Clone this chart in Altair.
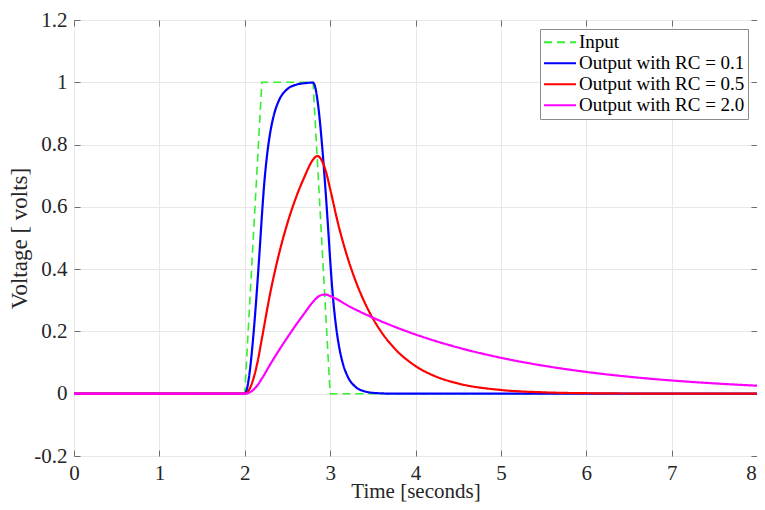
import altair as alt
import pandas as pd

names = ["Input", "Output with RC = 0.1", "Output with RC = 0.5", "Output with RC = 2.0"]
colors = ["#33ee33", "#0000ff", "#ff0000", "#ff00ff"]

t_in = [0, 2.0, 2.2, 2.8, 3.0, 8.0]
v_in = [0, 0, 1, 1, 0, 0]

t1 = [0, 2.0, 2.025, 2.05, 2.075, 2.1, 2.125, 2.15, 2.175, 2.2, 2.225, 2.25, 2.275, 2.3, 2.35, 2.4,
      2.5, 2.6, 2.7, 2.8, 2.825, 2.85, 2.875, 2.9, 2.925, 2.95, 2.975, 3.0, 3.025, 3.05, 3.075, 3.1,
      3.15, 3.2, 3.3, 3.4, 3.5, 3.7, 4.0, 8.0]
v1 = [0, 0, 0.0144, 0.0533, 0.1112, 0.184, 0.268, 0.3615, 0.4619, 0.568, 0.6636, 0.738, 0.7959, 0.841,
      0.9036, 0.9415, 0.9785, 0.9921, 0.9971, 0.9989, 0.9847, 0.946, 0.8883, 0.8156, 0.7317, 0.6383,
      0.5379, 0.4319, 0.3364, 0.262, 0.204, 0.1589, 0.0964, 0.0585, 0.0215, 0.0079, 0.0029, 0.0004, 0, 0]

t2 = [0, 2.0, 2.05, 2.1, 2.15, 2.2, 2.3, 2.4, 2.5, 2.6, 2.7, 2.8, 2.85, 2.9, 2.95, 3.0, 3.1, 3.2, 3.3,
      3.4, 3.5, 3.6, 3.75, 4.0, 4.25, 4.5, 5.0, 5.5, 6.0, 7.0, 8.0]
v2 = [0, 0, 0.0121, 0.0468, 0.102, 0.1758, 0.3252, 0.4475, 0.5477, 0.6297, 0.6968, 0.7518, 0.7633, 0.75,
      0.7141, 0.6578, 0.5386, 0.4409, 0.361, 0.2956, 0.242, 0.1981, 0.1468, 0.089, 0.054, 0.0328, 0.012,
      0.0044, 0.0016, 0.0002, 0]

t3 = [0, 2.0, 2.05, 2.1, 2.15, 2.2, 2.3, 2.4, 2.5, 2.6, 2.7, 2.8, 2.85, 2.9, 2.95, 3.0, 3.25, 3.5, 4.0,
      4.5, 5.0, 5.5, 6.0, 6.5, 7.0, 7.5, 8.0]
v3 = [0, 0, 0.0031, 0.0123, 0.0274, 0.0484, 0.0948, 0.139, 0.1809, 0.2209, 0.2589, 0.295, 0.3093, 0.3171,
      0.3185, 0.3137, 0.2768, 0.2443, 0.1903, 0.1482, 0.1154, 0.0899, 0.07, 0.0545, 0.0425, 0.0331, 0.0258]

x_ticks = [0, 1, 2, 3, 4, 5, 6, 7, 8]
y_ticks = [-0.2, 0, 0.2, 0.4, 0.6, 0.8, 1, 1.2]

df_in = pd.DataFrame({"t": t_in, "v": v_in, "series": names[0]})
df_out = pd.concat([
    pd.DataFrame({"t": t1, "v": v1, "series": names[1]}),
    pd.DataFrame({"t": t2, "v": v2, "series": names[2]}),
    pd.DataFrame({"t": t3, "v": v3, "series": names[3]}),
], ignore_index=True)

W, H = 683, 436
FONT = "Liberation Serif"
TXT = "#262626"
FRAME = "#8c8c8c"

xs = alt.Scale(domain=[0, 8], nice=False, zero=False)
ys = alt.Scale(domain=[-0.2, 1.2], nice=False, zero=False)
cscale = alt.Scale(domain=names, range=colors)
dscale = alt.Scale(domain=names, range=[[8, 5], [1, 0], [1, 0], [1, 0]])

legend = alt.Legend(
    title=None, orient="none", legendX=466, legendY=9,
    labelFont=FONT, labelFontSize=19, labelColor="black", labelLimit=0, labelOffset=2,
    symbolType="stroke", symbolSize=1024, symbolStrokeWidth=2,
    clipHeight=20.5, rowPadding=0,
    padding=3, strokeColor=FRAME, fillColor="white", cornerRadius=0,
)

x_main = alt.Axis(values=x_ticks, grid=True, gridColor="#e8e8e8", ticks=False, tickSize=0, domain=False,
                  labelFont=FONT, labelFontSize=21, labelColor=TXT, labelPadding=6, labelAngle=0,
                  labelFlush=False, labelOverlap=False,
                  labelOffset={"condition": {"test": "datum.value == 8", "value": -6}, "value": 0},
                  title="Time [seconds]", titleFont=FONT, titleFontSize=21, titleFontWeight="normal",
                  titleColor=TXT, titleBaseline="alphabetic", titleY=41)
y_main = alt.Axis(values=y_ticks, grid=True, gridColor="#e8e8e8", ticks=False, tickSize=0, domain=False,
                  labelFont=FONT, labelFontSize=21, labelColor=TXT, labelPadding=7,
                  labelFlush=False, labelOverlap=False,
                  labelExpr="'' + datum.value",
                  title="Voltage [ volts]", titleFont=FONT, titleFontSize=23, titleFontWeight="normal",
                  titleColor=TXT, titlePadding=2)


def tick_axis(vals, orient, offset):
    return alt.Axis(values=vals, orient=orient, offset=offset, labels=False, domain=False, grid=False,
                    ticks=True, tickSize=6, tickColor="#6e6e6e", tickWidth=1, title=None)


input_layer = alt.Chart(df_in).mark_line(strokeWidth=1.6).encode(
    x=alt.X("t:Q", scale=xs, axis=None),
    y=alt.Y("v:Q", scale=ys, axis=None),
    color=alt.Color("series:N", scale=cscale, legend=legend),
    strokeDash=alt.StrokeDash("series:N", scale=dscale, legend=legend),
)

output_layer = alt.Chart(df_out).mark_line(strokeWidth=2.2, interpolate="monotone").encode(
    x=alt.X("t:Q", scale=xs, axis=x_main),
    y=alt.Y("v:Q", scale=ys, axis=y_main),
    color=alt.Color("series:N", scale=cscale, legend=legend),
    strokeDash=alt.StrokeDash("series:N", scale=dscale, legend=legend),
)

ticks_a = alt.Chart(df_in).mark_line(opacity=0).encode(
    x=alt.X("t:Q", scale=xs, axis=tick_axis(x_ticks, "top", -H)),
    y=alt.Y("v:Q", scale=ys, axis=tick_axis(y_ticks, "right", -W)),
)
ticks_b = alt.Chart(df_in).mark_line(opacity=0).encode(
    x=alt.X("t:Q", scale=xs, axis=tick_axis(x_ticks, "bottom", -H)),
    y=alt.Y("v:Q", scale=ys, axis=tick_axis(y_ticks, "left", -W)),
)

chart = alt.layer(input_layer, output_layer, ticks_a, ticks_b).resolve_axis(
    x="independent", y="independent"
).properties(
    width=W, height=H,
    autosize=alt.AutoSizeParams(type="none"),
    padding={"left": 66, "top": 12, "right": 0, "bottom": 46},
    background="white",
).configure_view(stroke=FRAME, strokeWidth=1)

chart.save("out.html", embed_options={"renderer": "svg", "actions": False})
